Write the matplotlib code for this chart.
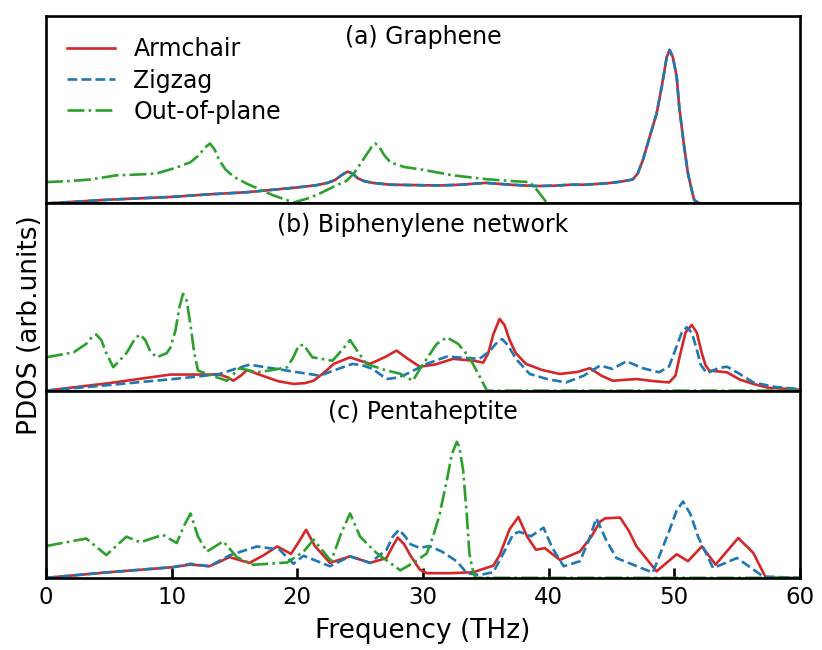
"""
Phonon PDOS of graphene, biphenylene network and pentaheptite:
armchair / zigzag in-plane and out-of-plane projections.
"""

import matplotlib

matplotlib.use("Agg")
import matplotlib.pyplot as plt


# ---------------------------------------------------------------------
# Data (arb. units)
# ---------------------------------------------------------------------

PANEL_TITLES = ["(a) Graphene", "(b) Biphenylene network", "(c) Pentaheptite"]
SERIES_LABELS = ["Armchair", "Zigzag", "Out-of-plane"]

# (a) Graphene - armchair and zigzag coincide
gra_inplane_f = [0, 5, 10, 12.8, 16, 19.9, 21.5, 22.4, 23.0, 23.5, 24.0,
                 24.4, 24.8, 25.3, 26, 27.4, 31.3, 33, 35, 37, 39, 40.5,
                 41.7, 43, 45, 45.7, 46.7, 47.1, 47.5, 48.05, 48.6, 49.0,
                 49.4, 49.64, 49.9, 50.2, 50.4, 50.8, 51.1, 51.4, 51.6, 52.0,
                 60]
gra_inplane_dos = [0, 0.02, 0.035, 0.048, 0.06, 0.085, 0.097, 0.11, 0.125,
                   0.15, 0.17, 0.16, 0.135, 0.12, 0.11, 0.10, 0.096, 0.10,
                   0.11, 0.10, 0.093, 0.095, 0.10, 0.10, 0.11, 0.116, 0.128,
                   0.16, 0.23, 0.356, 0.48, 0.62, 0.78, 0.82, 0.78, 0.677,
                   0.517, 0.30, 0.16, 0.07, 0.018, 0, 0]

gra_out_f = [0, 2, 3.5, 5.6, 7.5, 8.8, 10.3, 11.5, 12.2, 12.6, 13.05, 13.4,
             13.8, 14.3, 15, 16, 18.1, 19.7, 21, 22, 23.2, 23.9, 24.5, 25,
             25.5, 25.9, 26.2, 26.5, 26.9, 27.4, 28.5, 30, 32.4, 35, 37, 38.5,
             39.1, 39.9, 60]
gra_out_dos = [0.114, 0.12, 0.128, 0.15, 0.155, 0.16, 0.19, 0.22, 0.26, 0.295,
               0.32, 0.29, 0.23, 0.18, 0.14, 0.105, 0.043, 0.005, 0.03, 0.06,
               0.10, 0.12, 0.16, 0.21, 0.26, 0.30, 0.32, 0.305, 0.26, 0.22,
               0.195, 0.18, 0.15, 0.13, 0.12, 0.114, 0.07, 0.0, 0]

# (b) Biphenylene network
bip_arm_f = [0, 5, 9.9, 12, 13.8, 14.5, 14.9, 15.5, 16, 16.8, 17.6, 18.5,
             19.7, 20.6, 21.3, 22.2, 22.9, 24.2, 25.0, 25.8, 27.0, 27.9, 28.8,
             29.75, 31, 32.4, 34, 34.8, 35.2, 35.6, 36.1, 36.5, 36.9, 37.4,
             38.2, 39.5, 40.9, 42.3, 43.3, 44.2, 45.1, 47, 48.5, 49.6, 50.1,
             50.5, 50.9, 51.4, 51.8, 52.2, 52.5, 52.8, 54.2, 55.2, 56.3, 57.5,
             58.9, 60]
bip_arm_dos = [0, 0.04, 0.086, 0.086, 0.086, 0.07, 0.053, 0.08, 0.11, 0.09,
               0.071, 0.05, 0.036, 0.04, 0.053, 0.10, 0.143, 0.178, 0.16,
               0.143, 0.18, 0.214, 0.17, 0.128, 0.14, 0.17, 0.16, 0.15, 0.20,
               0.30, 0.383, 0.35, 0.27, 0.20, 0.143, 0.11, 0.089, 0.10, 0.12,
               0.08, 0.053, 0.062, 0.05, 0.044, 0.08, 0.20, 0.31, 0.351, 0.31,
               0.20, 0.135, 0.107, 0.098, 0.06, 0.036, 0.015, 0.01, 0.005]

bip_zig_f = [0, 5, 10.1, 12, 13.8, 15, 16.2, 17.5, 19.2, 21.8, 23, 24.4,
             25.2, 26, 27.1, 28.0, 28.7, 30.3, 31.9, 34.5, 35.3, 35.8, 36.3,
             36.8, 37.4, 38.5, 40, 41.4, 42.8, 44.1, 45.1, 46.2, 47.5, 48.8,
             49.6, 50.1, 50.6, 51, 51.4, 51.8, 52.1, 52.6, 53.5, 54.2, 55.2,
             56.3, 58, 59.7, 60]
bip_zig_dos = [0, 0.03, 0.062, 0.075, 0.089, 0.115, 0.139, 0.125, 0.107,
               0.08, 0.11, 0.143, 0.135, 0.116, 0.062, 0.07, 0.089, 0.143,
               0.182, 0.17, 0.21, 0.25, 0.276, 0.24, 0.17, 0.089, 0.06, 0.044,
               0.08, 0.134, 0.116, 0.157, 0.12, 0.098, 0.13, 0.22, 0.31,
               0.339, 0.31, 0.22, 0.14, 0.093, 0.12, 0.128, 0.09, 0.044, 0.02,
               0.01, 0.008]

bip_out_f = [0, 2.2, 3.2, 3.7, 4.0, 4.4, 4.8, 5.35, 6.4, 7.1, 7.5, 7.9, 8.3,
             8.8, 9.6, 9.9, 10.3, 10.6, 10.9, 11.2, 11.5, 11.8, 12.1, 13,
             14.4, 15.4, 16.8, 18, 19.2, 19.7, 20.1, 20.5, 21.2, 22.8, 23.6,
             24.2, 24.8, 25.5, 27, 28.2, 29.2, 29.8, 30.3, 31.1, 31.9, 32.8,
             33.7, 34.4, 35.1, 60]
bip_out_dos = [0.178, 0.205, 0.25, 0.29, 0.30, 0.27, 0.20, 0.125, 0.20, 0.28,
               0.30, 0.27, 0.21, 0.178, 0.20, 0.23, 0.32, 0.44, 0.517, 0.48,
               0.35, 0.20, 0.107, 0.085, 0.053, 0.12, 0.098, 0.11, 0.125,
               0.18, 0.24, 0.245, 0.178, 0.16, 0.22, 0.27, 0.21, 0.143, 0.11,
               0.09, 0.053, 0.12, 0.17, 0.25, 0.285, 0.25, 0.178, 0.09, 0.0,
               0]

# (c) Pentaheptite
pen_arm_f = [0, 5, 10.1, 11.5, 13, 13.8, 14.6, 15.4, 16.2, 17.3, 18.4, 19.5,
             20.1, 20.7, 21.4, 22.6, 24.2, 25.8, 27.1, 27.6, 28.0, 28.5, 29.0,
             29.75, 30.3, 32.2, 34.0, 35.6, 36.1, 36.9, 37.6, 38.3, 39, 39.7,
             40.9, 42.5, 43.4, 44.1, 44.5, 45.7, 46.4, 47, 48.6, 50.2, 51.1,
             52.2, 53.3, 55.1, 56.3, 57.3, 60]
pen_arm_dos = [0, 0.03, 0.057, 0.071, 0.062, 0.085, 0.111, 0.095, 0.08,
               0.12, 0.168, 0.128, 0.19, 0.257, 0.17, 0.08, 0.115, 0.08,
               0.106, 0.17, 0.215, 0.18, 0.12, 0.044, 0.025, 0.025, 0.03,
               0.065, 0.12, 0.26, 0.325, 0.22, 0.15, 0.159, 0.096, 0.141,
               0.22, 0.30, 0.318, 0.322, 0.25, 0.168, 0.035, 0.126, 0.089,
               0.168, 0.071, 0.213, 0.133, 0.0, 0]

pen_zig_f = [0, 5, 10.1, 11.5, 13, 14.6, 16.8, 18.6, 19.7, 20.5, 22.6, 24.2,
             25.8, 27.1, 27.6, 28.1, 28.6, 29.0, 29.75, 30.5, 31.5, 32.7,
             33.5, 34.5, 35.6, 36.4, 37.2, 37.7, 38.6, 39.6, 40.3, 41.2,
             42.5, 43.2, 43.8, 44.6, 45.4, 48.3, 49.6, 50.2, 50.7, 51.3, 51.9,
             53.1, 55, 57.1, 60]
pen_zig_dos = [0, 0.03, 0.057, 0.075, 0.062, 0.12, 0.168, 0.15, 0.075,
               0.118, 0.062, 0.115, 0.08, 0.15, 0.22, 0.257, 0.22, 0.18, 0.16,
               0.17, 0.141, 0.088, 0.025, 0.015, 0.03, 0.13, 0.235, 0.246,
               0.222, 0.268, 0.16, 0.062, 0.089, 0.20, 0.318, 0.20, 0.106,
               0.028, 0.25, 0.36, 0.408, 0.34, 0.22, 0.052, 0.106, 0.007, 0]

pen_out_f = [0, 3.2, 4.8, 6.4, 7.5, 9.3, 10.4, 11.0, 11.5, 12.1, 12.8, 14.1,
             15.2, 16.5, 19.2, 20.5, 21.3, 22.7, 23.5, 24.2, 25, 26.3, 28.2,
             29.2, 30.3, 30.8, 31.3, 31.9, 32.3, 32.7, 32.9, 33.2, 33.5, 33.7,
             34.0, 34.2, 60]
pen_out_dos = [0.17, 0.21, 0.122, 0.22, 0.19, 0.23, 0.186, 0.28, 0.344, 0.22,
               0.14, 0.195, 0.11, 0.07, 0.082, 0.14, 0.204, 0.089, 0.24,
               0.344, 0.22, 0.133, 0.04, 0.079, 0.13, 0.22, 0.33, 0.52, 0.66,
               0.727, 0.70, 0.575, 0.33, 0.13, 0.03, 0.0, 0]


# ---------------------------------------------------------------------
# Plot
# ---------------------------------------------------------------------

def main() -> None:
    """Draw the three stacked PDOS panels and save out.png."""

    panels = [
        ((gra_inplane_f, gra_inplane_dos), (gra_inplane_f, gra_inplane_dos),
         (gra_out_f, gra_out_dos)),
        ((bip_arm_f, bip_arm_dos), (bip_zig_f, bip_zig_dos),
         (bip_out_f, bip_out_dos)),
        ((pen_arm_f, pen_arm_dos), (pen_zig_f, pen_zig_dos),
         (pen_out_f, pen_out_dos)),
    ]

    fig, axes = plt.subplots(3, 1, sharex=True, figsize=(8.22, 6.5), dpi=100)
    fig.subplots_adjust(left=0.056, right=0.973, top=0.975, bottom=0.111,
                        hspace=0)

    for ax, title, (arm, zig, out) in zip(axes, PANEL_TITLES, panels):
        ax.plot(arm[0], arm[1], color="#d62728", lw=1.9, ls="-",
                label=SERIES_LABELS[0])
        ax.plot(zig[0], zig[1], color="#1f77b4", lw=1.9, ls="--",
                label=SERIES_LABELS[1])
        ax.plot(out[0], out[1], color="#2ca02c", lw=1.9, ls="-.",
                label=SERIES_LABELS[2])

        ax.set_xlim(0, 60)
        ax.set_ylim(0, 1.0)
        ax.set_yticks([])
        ax.text(0.5, 0.887, title, transform=ax.transAxes, ha="center",
                va="center", fontsize=17)
        for spine in ax.spines.values():
            spine.set_linewidth(1.9)
        ax.tick_params(axis="x", bottom=False, labelbottom=False)

    axes[0].legend(loc="upper left", frameon=False, fontsize=17,
                   labelspacing=0.3, handlelength=2.0)

    bottom_ax = axes[-1]
    bottom_ax.set_xticks([0, 10, 20, 30, 40, 50, 60])
    bottom_ax.tick_params(axis="x", bottom=True, labelbottom=True,
                          direction="in", length=7, width=1.9,
                          labelsize=16.5, pad=6)
    bottom_ax.set_xlabel("Frequency (THz)", fontsize=19, labelpad=6)

    fig.text(0.036, 0.5, "PDOS (arb.units)", rotation=90, ha="center",
             va="center", fontsize=19)

    fig.savefig("out.png", dpi=100)
    plt.close(fig)


if __name__ == "__main__":
    main()
